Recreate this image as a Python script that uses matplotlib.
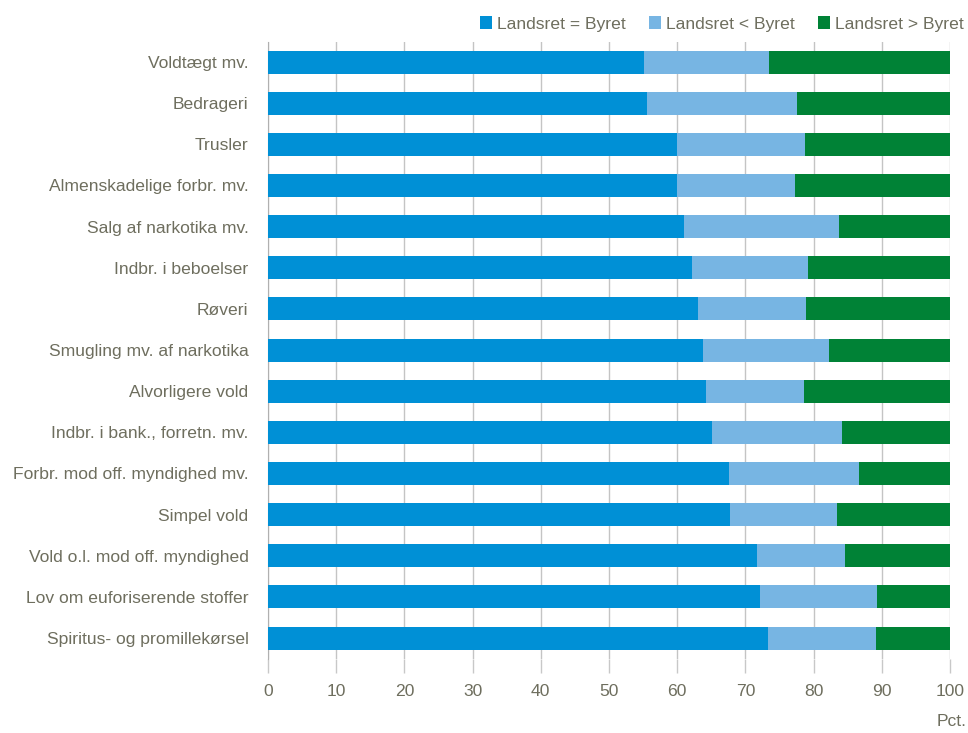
import matplotlib
matplotlib.use("Agg")
import matplotlib.pyplot as plt
import numpy as np

# data (pct.)
categories = [
    "Voldtægt mv.",
    "Bedrageri",
    "Trusler",
    "Almenskadelige forbr. mv.",
    "Salg af narkotika mv.",
    "Indbr. i beboelser",
    "Røveri",
    "Smugling mv. af narkotika",
    "Alvorligere vold",
    "Indbr. i bank., forretn. mv.",
    "Forbr. mod off. myndighed mv.",
    "Simpel vold",
    "Vold o.l. mod off. myndighed",
    "Lov om euforiserende stoffer",
    "Spiritus- og promillekørsel",
]
lige = [55.1, 55.5, 59.9, 60.0, 61.0, 62.1, 63.0, 63.8, 64.2, 65.1, 67.6, 67.7, 71.7, 72.2, 73.3]
mildere = [18.3, 22.1, 18.9, 17.3, 22.7, 17.1, 15.9, 18.5, 14.4, 19.0, 19.1, 15.8, 12.9, 17.1, 15.9]
strengere = [100 - a - b for a, b in zip(lige, mildere)]

series_names = ["Landsret = Byret", "Landsret < Byret", "Landsret > Byret"]
colors = ["#0090d6", "#77b5e3", "#008236"]
txt = "#6e6e5e"

plt.rcParams["font.family"] = ["Liberation Sans", "DejaVu Sans"]
fs = 12.6

fig = plt.figure(figsize=(9.68, 7.33), dpi=100)
ax = fig.add_axes([268 / 968, 1 - 658.6 / 733, (950 - 268) / 968, (658.6 - 41.5) / 733])

y = np.arange(len(categories))
left = np.zeros(len(categories))
for vals, name, col in zip([lige, mildere, strengere], series_names, colors):
    ax.barh(y, vals, left=left, height=0.56, color=col, label=name, zorder=3)
    left = left + np.array(vals)

ax.set_ylim(len(categories) - 0.5, -0.5)
ax.set_xlim(0, 100)
ax.set_yticks(y)
ax.set_yticklabels(categories, fontsize=fs, color=txt)
ax.set_xticks(np.arange(0, 101, 10))
ax.tick_params(axis="x", labelsize=fs, labelcolor=txt, color="#c8c8c8", length=10, width=1, pad=8)
ax.tick_params(axis="y", length=0, pad=14)
ax.grid(axis="x", color="#c4c4c4", linewidth=1, zorder=0)
for s in ["top", "right", "bottom"]:
    ax.spines[s].set_visible(False)
ax.spines["left"].set_color("#b0b0b0")

fig.text(967 / 968, 1 - 722 / 733, "Pct.", fontsize=fs, color=txt, ha="right", va="center")

leg = fig.legend(loc="center right", bbox_to_anchor=(964 / 968, 1 - 24 / 733), ncol=3,
                 frameon=False, fontsize=fs, handlelength=0.7, handleheight=0.7,
                 handletextpad=0.3, columnspacing=1.3, borderaxespad=0, borderpad=0)
for t in leg.get_texts():
    t.set_color(txt)

fig.savefig("out.png", dpi=100)
